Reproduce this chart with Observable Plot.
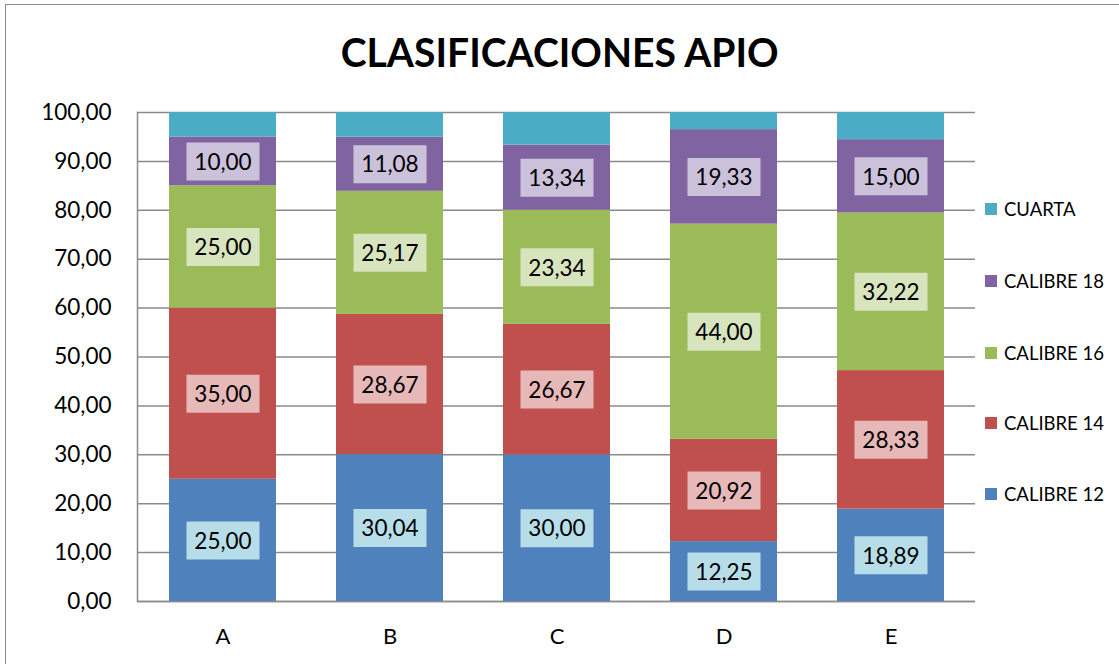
<!DOCTYPE html>
<html>
<head>
<meta charset="utf-8">
<script src="https://cdn.jsdelivr.net/npm/d3@7"></script>
<script src="https://cdn.jsdelivr.net/npm/@observablehq/plot@0.6"></script>
<style>
html, body { margin: 0; padding: 0; background: #fff; overflow: hidden; }
#wrap { position: relative; width: 1119px; height: 664px; overflow: hidden; font-family: Lato, "Open Sans", sans-serif; }
#frame { position: absolute; left: 5px; top: 4px; width: 1200px; height: 700px; border: 1.5px solid #8a8a8a; box-sizing: border-box; }
#title { position: absolute; left: 0; top: 27px; width: 1119px; text-align: center; font-weight: bold; font-size: 41px; line-height: 50px; color: #000; white-space: nowrap; }
#title span { display: inline-block; transform-origin: center; }
#chart { position: absolute; left: 0; top: 90px; }
.lg { position: absolute; left: 985px; height: 20px; display: flex; align-items: center; font-size: 18.5px; color: #000; white-space: nowrap; }
.lg i { display: inline-block; width: 12px; height: 12px; margin-right: 7px; }
</style>
</head>
<body>
<div id="wrap">
  <div id="frame"></div>
  <div id="title"><span>CLASIFICACIONES APIO</span></div>
  <div id="chart"></div>
  <div id="legend"></div>
</div>
<script>
// ---- data ----
const categories = ["A", "B", "C", "D", "E"];
const series = ["CALIBRE 12", "CALIBRE 14", "CALIBRE 16", "CALIBRE 18", "CUARTA"];
const calibre12 = [25.00, 30.04, 30.00, 12.25, 18.89];
const calibre14 = [35.00, 28.67, 26.67, 20.92, 28.33];
const calibre16 = [25.00, 25.17, 23.34, 44.00, 32.22];
const calibre18 = [10.00, 11.08, 13.34, 19.33, 15.00];
const cuarta    = [5.00, 5.04, 6.65, 3.50, 5.56];
const yTicks = [0, 10, 20, 30, 40, 50, 60, 70, 80, 90, 100];

// ---- styles ----
const colors = ["#4f81bd", "#c0504d", "#9bbb59", "#8064a2", "#4bacc6"];
const labelBg = ["#b7dee8", "#e6b9b8", "#d7e4bd", "#ccc1da", null];
const fmt = v => v.toFixed(2).replace(".", ",");

const seriesValues = [calibre12, calibre14, calibre16, calibre18, cuarta];
const rows = [];
categories.forEach((c, i) => {
  let acc = 0;
  seriesValues.forEach((vals, j) => {
    const v = vals[i];
    rows.push({cat: c, series: series[j], idx: j, value: v, y1: acc, y2: acc + v, mid: acc + v / 2});
    acc += v;
  });
});

const boxSymbol = { draw(ctx) { ctx.rect(-36.5, -19, 73, 38); } };

const labelMarks = [];
for (let j = 0; j < 4; j++) {
  const sub = rows.filter(d => d.idx === j);
  labelMarks.push(Plot.dot(sub, {x: "cat", y: "mid", symbol: boxSymbol, fill: labelBg[j], stroke: "none", r: 10}));
}

const chart = Plot.plot({
  width: 1119,
  height: 574,
  marginTop: 22,
  marginBottom: 63,
  marginLeft: 137,
  marginRight: 144,
  style: {fontFamily: "Lato, 'Open Sans', sans-serif", fontSize: "22px", color: "#000", background: "transparent"},
  x: {domain: categories, paddingInner: 0.36, paddingOuter: 0.18, label: null},
  y: {domain: [0, 100], label: null},
  color: {domain: series, range: colors},
  marks: [
    Plot.gridY(yTicks, {stroke: "#8a8a8a", strokeOpacity: 1, strokeWidth: 1.5}),
    Plot.ruleY([0], {stroke: "#8a8a8a", strokeWidth: 1.5}),
    Plot.frame({anchor: "left", stroke: "#8a8a8a", strokeWidth: 1.5}),
    Plot.barY(rows, {x: "cat", y1: "y1", y2: "y2", fill: "series"}),
    ...labelMarks,
    Plot.text(rows.filter(d => d.idx < 4), {x: "cat", y: "mid", text: d => fmt(d.value), fill: "#000", fontSize: 22.5, dy: 1}),
    Plot.axisY({ticks: yTicks, tickFormat: fmt, tickSize: 0, tickPadding: 26, fontSize: 22.5}),
    Plot.axisX({tickSize: 0, tickPadding: 27, fontSize: 22})
  ]
});
document.getElementById("chart").appendChild(chart);

// ---- legend ----
const legendY = [209, 281, 353, 423, 494]; // CUARTA, 18, 16, 14, 12
const legendOrder = [4, 3, 2, 1, 0];
const lg = document.getElementById("legend");
legendOrder.forEach((j, k) => {
  const d = document.createElement("div");
  d.className = "lg";
  d.style.top = (legendY[k] - 10) + "px";
  d.innerHTML = `<i style="background:${colors[j]}"></i>${series[j]}`;
  lg.appendChild(d);
});

// fit title width to reference
const t = document.querySelector("#title span");
const w = t.getBoundingClientRect().width;
if (w > 0) t.style.transform = `scaleX(${438 / w})`;
</script>
</body>
</html>
